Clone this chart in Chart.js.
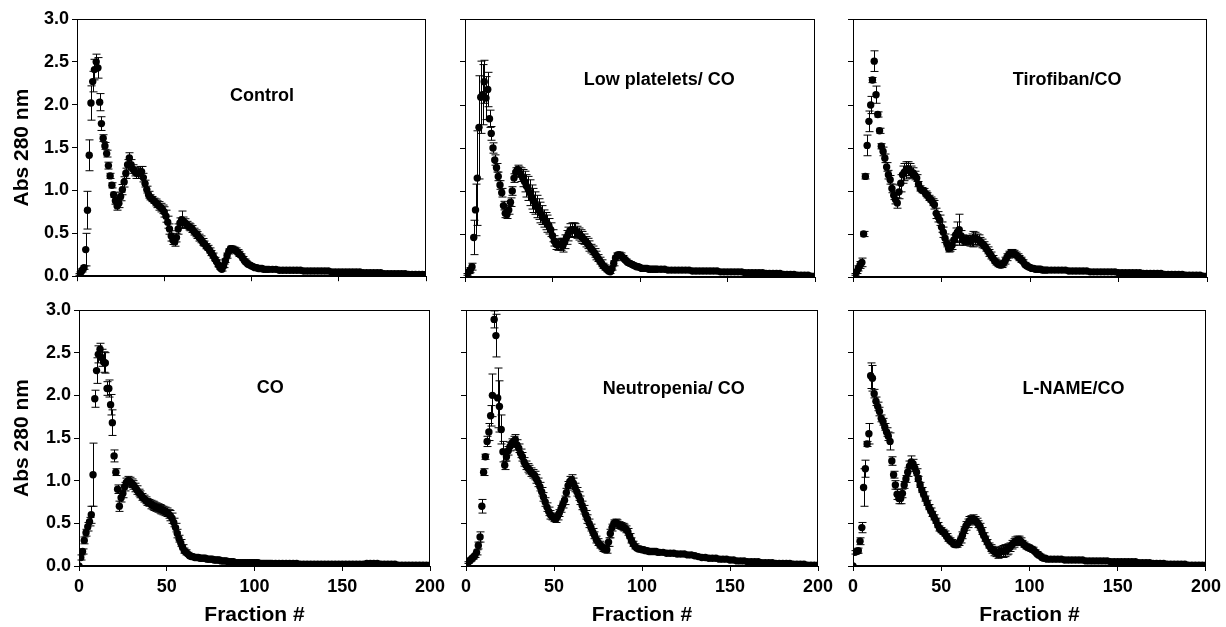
<!DOCTYPE html>
<html>
<head>
<meta charset="utf-8">
<script src="https://cdn.jsdelivr.net/npm/chart.js@4.4.1/dist/chart.umd.min.js"></script>
<style>
  html, body { margin: 0; padding: 0; background: #fff; }
  body { width: 1226px; height: 627px; position: relative; overflow: hidden; }
  .panel { position: absolute; }
  .panel canvas { display: block; }
</style>
</head>
<body>
<div class="panel" id="p0"><canvas id="c0"></canvas></div>
<div class="panel" id="p1"><canvas id="c1"></canvas></div>
<div class="panel" id="p2"><canvas id="c2"></canvas></div>
<div class="panel" id="p3"><canvas id="c3"></canvas></div>
<div class="panel" id="p4"><canvas id="c4"></canvas></div>
<div class="panel" id="p5"><canvas id="c5"></canvas></div>
<script>
// fraction numbers (every fraction up to 110, every second one after)
const fractions = [
  0, 1, 2, 3, 4, 5, 6, 7, 8, 9,
  10, 11, 12, 13, 14, 15, 16, 17, 18, 19,
  20, 21, 22, 23, 24, 25, 26, 27, 28, 29,
  30, 31, 32, 33, 34, 35, 36, 37, 38, 39,
  40, 41, 42, 43, 44, 45, 46, 47, 48, 49,
  50, 51, 52, 53, 54, 55, 56, 57, 58, 59,
  60, 61, 62, 63, 64, 65, 66, 67, 68, 69,
  70, 71, 72, 73, 74, 75, 76, 77, 78, 79,
  80, 81, 82, 83, 84, 85, 86, 87, 88, 89,
  90, 91, 92, 93, 94, 95, 96, 97, 98, 99,
  100, 101, 102, 103, 104, 105, 106, 107, 108, 109,
  110,
  112, 114, 116, 118, 120,
  122, 124, 126, 128, 130, 132, 134, 136, 138, 140,
  142, 144, 146, 148, 150, 152, 154, 156, 158, 160,
  162, 164, 166, 168, 170, 172, 174, 176, 178, 180,
  182, 184, 186, 188, 190, 192, 194, 196, 198, 200
];

const controlAbs = [
  0.00, 0.02, 0.04, 0.07, 0.10, 0.31, 0.77, 1.41, 2.02, 2.27,
  2.41, 2.50, 2.43, 2.03, 1.78, 1.61, 1.52, 1.43, 1.29, 1.17,
  1.06, 0.95, 0.88, 0.82, 0.85, 0.93, 1.01, 1.10, 1.20, 1.30,
  1.38, 1.30, 1.25, 1.22, 1.20, 1.20, 1.21, 1.22, 1.15, 1.08,
  1.01, 0.95, 0.92, 0.90, 0.88, 0.86, 0.84, 0.82, 0.80, 0.78,
  0.75, 0.70, 0.63, 0.55, 0.47, 0.42, 0.40, 0.45, 0.55, 0.62,
  0.66, 0.64, 0.62, 0.60, 0.58, 0.57, 0.55, 0.52, 0.50, 0.48,
  0.45, 0.43, 0.40, 0.38, 0.35, 0.33, 0.30, 0.27, 0.24, 0.20,
  0.17, 0.13, 0.10, 0.08, 0.12, 0.18, 0.24, 0.29, 0.32, 0.32,
  0.31, 0.30, 0.28, 0.26, 0.24, 0.21, 0.18, 0.16, 0.14, 0.13,
  0.12, 0.11, 0.10, 0.10, 0.09, 0.09, 0.09, 0.08, 0.08, 0.08,
  0.08,
  0.08, 0.08, 0.07, 0.07, 0.07,
  0.07, 0.07, 0.07, 0.07, 0.06, 0.06, 0.06, 0.06, 0.06, 0.06,
  0.06, 0.06, 0.05, 0.05, 0.05, 0.05, 0.05, 0.05, 0.05, 0.05,
  0.05, 0.04, 0.04, 0.04, 0.04, 0.04, 0.04, 0.03, 0.03, 0.03,
  0.03, 0.03, 0.03, 0.03, 0.02, 0.02, 0.02, 0.02, 0.02, 0.02
];
const controlErr = [
  0.00, 0.01, 0.01, 0.02, 0.02, 0.19, 0.22, 0.18, 0.20, 0.12,
  0.12, 0.09, 0.12, 0.10, 0.08, 0.04, 0.04, 0.04, 0.04, 0.03,
  0.03, 0.03, 0.04, 0.05, 0.05, 0.05, 0.06, 0.06, 0.06, 0.06,
  0.06, 0.06, 0.05, 0.05, 0.06, 0.06, 0.07, 0.06, 0.05, 0.04,
  0.04, 0.04, 0.03, 0.03, 0.03, 0.04, 0.04, 0.05, 0.05, 0.05,
  0.06, 0.07, 0.07, 0.06, 0.06, 0.05, 0.05, 0.05, 0.06, 0.06,
  0.10, 0.05, 0.05, 0.04, 0.04, 0.04, 0.04, 0.04, 0.04, 0.04,
  0.04, 0.04, 0.04, 0.03, 0.03, 0.03, 0.03, 0.03, 0.03, 0.02,
  0.02, 0.02, 0.02, 0.02, 0.02, 0.02, 0.03, 0.03, 0.03, 0.03,
  0.03, 0.03, 0.03, 0.03, 0.02, 0.02, 0.02, 0.02, 0.02, 0.01,
  0.01, 0.01, 0.01, 0.01, 0.01, 0.01, 0.01, 0.01, 0.01, 0.01,
  0.01
];

const lowPlateletsAbs = [
  0.01, 0.03, 0.06, 0.08, 0.12, 0.46, 0.78, 1.15, 1.74, 2.09,
  2.12, 2.27, 2.08, 2.18, 1.84, 1.67, 1.50, 1.36, 1.27, 1.17,
  1.07, 0.98, 0.83, 0.74, 0.73, 0.78, 0.87, 1.00, 1.15, 1.22,
  1.25, 1.22, 1.19, 1.15, 1.11, 1.06, 1.03, 0.98, 0.93, 0.89,
  0.86, 0.82, 0.79, 0.75, 0.72, 0.68, 0.65, 0.62, 0.59, 0.55,
  0.48, 0.42, 0.38, 0.37, 0.38, 0.38, 0.37, 0.41, 0.46, 0.50,
  0.54, 0.55, 0.55, 0.54, 0.52, 0.50, 0.48, 0.46, 0.44, 0.41,
  0.39, 0.36, 0.33, 0.31, 0.28, 0.25, 0.22, 0.19, 0.16, 0.13,
  0.11, 0.09, 0.07, 0.06, 0.10, 0.16, 0.22, 0.25, 0.26, 0.25,
  0.23, 0.21, 0.19, 0.17, 0.16, 0.15, 0.14, 0.13, 0.12, 0.12,
  0.11, 0.10, 0.10, 0.10, 0.10, 0.09, 0.09, 0.09, 0.09, 0.09,
  0.09,
  0.09, 0.09, 0.08, 0.08, 0.08,
  0.08, 0.08, 0.08, 0.08, 0.07, 0.07, 0.07, 0.07, 0.07, 0.07,
  0.07, 0.07, 0.06, 0.06, 0.06, 0.06, 0.06, 0.06, 0.06, 0.05,
  0.05, 0.05, 0.05, 0.05, 0.05, 0.04, 0.04, 0.04, 0.04, 0.04,
  0.03, 0.03, 0.03, 0.03, 0.02, 0.02, 0.02, 0.02, 0.01, 0.01
];
const lowPlateletsErr = [
  0.00, 0.01, 0.02, 0.03, 0.04, 0.20, 0.30, 0.55, 0.60, 0.42,
  0.35, 0.25, 0.25, 0.20, 0.10, 0.08, 0.06, 0.06, 0.05, 0.05,
  0.05, 0.05, 0.05, 0.05, 0.05, 0.05, 0.05, 0.05, 0.05, 0.05,
  0.05, 0.06, 0.08, 0.10, 0.12, 0.13, 0.14, 0.15, 0.14, 0.14,
  0.13, 0.13, 0.12, 0.12, 0.11, 0.10, 0.10, 0.10, 0.09, 0.08,
  0.07, 0.06, 0.06, 0.06, 0.06, 0.07, 0.08, 0.08, 0.08, 0.08,
  0.08, 0.08, 0.08, 0.08, 0.07, 0.07, 0.07, 0.07, 0.06, 0.06,
  0.06, 0.06, 0.05, 0.05, 0.05, 0.05, 0.04, 0.04, 0.04, 0.03,
  0.03, 0.03, 0.02, 0.02, 0.02, 0.03, 0.03, 0.03, 0.03, 0.03,
  0.02, 0.02, 0.02, 0.02, 0.02, 0.02, 0.02, 0.02, 0.01, 0.01,
  0.01, 0.01, 0.01, 0.01, 0.01, 0.01, 0.01, 0.01, 0.01, 0.01,
  0.01
];

const tirofibanAbs = [
  0.01, 0.03, 0.06, 0.10, 0.14, 0.17, 0.50, 1.17, 1.53, 1.81,
  2.00, 2.29, 2.51, 2.12, 1.89, 1.70, 1.52, 1.46, 1.38, 1.28,
  1.19, 1.13, 1.03, 0.95, 0.90, 0.86, 0.99, 1.09, 1.19, 1.22,
  1.24, 1.26, 1.24, 1.22, 1.21, 1.18, 1.15, 1.08, 1.03, 1.01,
  1.00, 0.97, 0.95, 0.92, 0.90, 0.87, 0.84, 0.74, 0.70, 0.66,
  0.58, 0.52, 0.45, 0.39, 0.33, 0.34, 0.37, 0.43, 0.49, 0.52,
  0.55, 0.48, 0.43, 0.42, 0.43, 0.43, 0.42, 0.43, 0.44, 0.45,
  0.44, 0.43, 0.41, 0.39, 0.37, 0.34, 0.31, 0.28, 0.25, 0.22,
  0.19, 0.17, 0.15, 0.14, 0.14, 0.16, 0.19, 0.23, 0.26, 0.28,
  0.28, 0.27, 0.26, 0.24, 0.22, 0.20, 0.18, 0.15, 0.13, 0.12,
  0.11, 0.10, 0.10, 0.09, 0.09, 0.09, 0.09, 0.08, 0.08, 0.08,
  0.08,
  0.08, 0.08, 0.08, 0.08, 0.08,
  0.07, 0.07, 0.07, 0.07, 0.07, 0.07, 0.06, 0.06, 0.06, 0.06,
  0.06, 0.06, 0.06, 0.06, 0.05, 0.05, 0.05, 0.05, 0.05, 0.05,
  0.05, 0.04, 0.04, 0.04, 0.04, 0.04, 0.04, 0.03, 0.03, 0.03,
  0.03, 0.03, 0.03, 0.02, 0.02, 0.02, 0.02, 0.02, 0.01, 0.01
];
const tirofibanErr = [
  0.00, 0.01, 0.02, 0.03, 0.04, 0.05, 0.03, 0.03, 0.12, 0.12,
  0.10, 0.03, 0.12, 0.10, 0.03, 0.03, 0.03, 0.05, 0.05, 0.05,
  0.05, 0.05, 0.05, 0.05, 0.05, 0.06, 0.08, 0.10, 0.10, 0.10,
  0.10, 0.08, 0.08, 0.07, 0.06, 0.05, 0.04, 0.03, 0.03, 0.03,
  0.03, 0.03, 0.03, 0.03, 0.03, 0.04, 0.05, 0.06, 0.06, 0.06,
  0.06, 0.06, 0.05, 0.04, 0.04, 0.04, 0.05, 0.06, 0.08, 0.12,
  0.18, 0.06, 0.06, 0.05, 0.05, 0.05, 0.06, 0.07, 0.09, 0.07,
  0.06, 0.06, 0.05, 0.05, 0.04, 0.04, 0.04, 0.04, 0.04, 0.03,
  0.03, 0.03, 0.03, 0.03, 0.03, 0.03, 0.04, 0.04, 0.04, 0.04,
  0.04, 0.04, 0.03, 0.03, 0.03, 0.03, 0.02, 0.02, 0.02, 0.02,
  0.01, 0.01, 0.01, 0.01, 0.01, 0.01, 0.01, 0.01, 0.01, 0.01,
  0.01
];

const coAbs = [
  0.00, 0.10, 0.17, 0.30, 0.39, 0.46, 0.52, 0.60, 1.07, 1.96,
  2.29, 2.48, 2.54, 2.44, 2.39, 2.38, 2.08, 2.08, 1.89, 1.68,
  1.29, 1.10, 0.90, 0.70, 0.80, 0.85, 0.93, 0.98, 1.00, 0.99,
  0.97, 0.95, 0.92, 0.89, 0.86, 0.84, 0.81, 0.79, 0.77, 0.75,
  0.74, 0.72, 0.71, 0.70, 0.69, 0.68, 0.67, 0.66, 0.65, 0.64,
  0.63, 0.61, 0.59, 0.56, 0.51, 0.45, 0.38, 0.32, 0.27, 0.22,
  0.18, 0.16, 0.14, 0.12, 0.11, 0.11, 0.10, 0.10, 0.10, 0.09,
  0.09, 0.09, 0.09, 0.08, 0.08, 0.08, 0.08, 0.07, 0.07, 0.07,
  0.07, 0.06, 0.06, 0.06, 0.06, 0.05, 0.05, 0.05, 0.05, 0.04,
  0.04, 0.04, 0.04, 0.04, 0.04, 0.04, 0.04, 0.04, 0.04, 0.04,
  0.04, 0.04, 0.04, 0.03, 0.03, 0.03, 0.03, 0.03, 0.03, 0.03,
  0.03,
  0.03, 0.03, 0.03, 0.03, 0.03,
  0.03, 0.03, 0.02, 0.02, 0.02, 0.02, 0.02, 0.02, 0.02, 0.02,
  0.02, 0.02, 0.02, 0.02, 0.02, 0.02, 0.02, 0.02, 0.02, 0.02,
  0.02, 0.03, 0.03, 0.03, 0.03, 0.02, 0.02, 0.02, 0.02, 0.02,
  0.01, 0.01, 0.01, 0.01, 0.01, 0.01, 0.01, 0.01, 0.01, 0.01
];
const coErr = [
  0.00, 0.03, 0.03, 0.04, 0.04, 0.05, 0.05, 0.10, 0.37, 0.10,
  0.15, 0.10, 0.07, 0.10, 0.12, 0.12, 0.08, 0.10, 0.12, 0.15,
  0.07, 0.04, 0.05, 0.06, 0.05, 0.05, 0.05, 0.05, 0.05, 0.05,
  0.05, 0.05, 0.05, 0.05, 0.04, 0.04, 0.04, 0.04, 0.04, 0.04,
  0.04, 0.05, 0.05, 0.05, 0.05, 0.05, 0.05, 0.05, 0.05, 0.05,
  0.05, 0.05, 0.06, 0.06, 0.05, 0.05, 0.05, 0.04, 0.04, 0.03,
  0.03, 0.03, 0.02, 0.02, 0.02, 0.01, 0.01, 0.01, 0.01, 0.01,
  0.01, 0.01, 0.01, 0.01, 0.01, 0.01, 0.01, 0.01, 0.01, 0.01,
  0.01, 0.01, 0.01, 0.01, 0.01, 0.01, 0.01, 0.01, 0.01, 0.01,
  0.01, 0.01, 0.01, 0.01, 0.01, 0.01, 0.01, 0.01, 0.01, 0.01,
  0.01, 0.01, 0.01, 0.01, 0.01, 0.01, 0.01, 0.01, 0.01, 0.01,
  0.01
];

const neutropeniaAbs = [
  0.02, 0.04, 0.06, 0.08, 0.10, 0.12, 0.16, 0.24, 0.34, 0.70,
  1.10, 1.28, 1.46, 1.57, 1.76, 2.00, 2.89, 2.70, 1.97, 1.87,
  1.60, 1.34, 1.18, 1.28, 1.35, 1.40, 1.44, 1.46, 1.48, 1.42,
  1.38, 1.32, 1.28, 1.22, 1.18, 1.15, 1.13, 1.10, 1.08, 1.06,
  1.02, 0.98, 0.93, 0.87, 0.81, 0.75, 0.69, 0.64, 0.60, 0.58,
  0.56, 0.55, 0.58, 0.62, 0.67, 0.72, 0.77, 0.86, 0.94, 0.99,
  1.01, 0.97, 0.92, 0.87, 0.82, 0.77, 0.71, 0.66, 0.60, 0.55,
  0.50, 0.45, 0.40, 0.36, 0.31, 0.28, 0.25, 0.23, 0.21, 0.20,
  0.19, 0.28, 0.38, 0.45, 0.50, 0.51, 0.50, 0.48, 0.47, 0.46,
  0.45, 0.43, 0.40, 0.35, 0.30, 0.26, 0.23, 0.21, 0.20, 0.20,
  0.19, 0.19, 0.18, 0.18, 0.17, 0.17, 0.17, 0.17, 0.17, 0.16,
  0.16,
  0.16, 0.15, 0.15, 0.15, 0.14,
  0.14, 0.14, 0.13, 0.13, 0.12, 0.11, 0.10, 0.10, 0.09, 0.09,
  0.09, 0.08, 0.08, 0.08, 0.07, 0.07, 0.06, 0.06, 0.06, 0.05,
  0.05, 0.05, 0.05, 0.04, 0.04, 0.04, 0.04, 0.03, 0.03, 0.03,
  0.03, 0.03, 0.02, 0.02, 0.02, 0.02, 0.01, 0.01, 0.01, 0.01
];
const neutropeniaErr = [
  0.00, 0.01, 0.01, 0.02, 0.02, 0.02, 0.03, 0.04, 0.06, 0.08,
  0.04, 0.03, 0.06, 0.10, 0.12, 0.25, 0.10, 0.25, 0.35, 0.30,
  0.17, 0.12, 0.05, 0.05, 0.05, 0.05, 0.05, 0.06, 0.06, 0.06,
  0.05, 0.05, 0.05, 0.05, 0.05, 0.05, 0.05, 0.05, 0.05, 0.05,
  0.05, 0.05, 0.05, 0.05, 0.05, 0.05, 0.05, 0.05, 0.05, 0.04,
  0.04, 0.04, 0.04, 0.04, 0.04, 0.04, 0.05, 0.05, 0.05, 0.06,
  0.06, 0.06, 0.05, 0.05, 0.05, 0.05, 0.05, 0.05, 0.05, 0.05,
  0.05, 0.04, 0.04, 0.04, 0.04, 0.04, 0.04, 0.04, 0.04, 0.04,
  0.04, 0.05, 0.05, 0.04, 0.04, 0.04, 0.04, 0.04, 0.04, 0.04,
  0.04, 0.04, 0.04, 0.03, 0.03, 0.03, 0.03, 0.02, 0.02, 0.02,
  0.02, 0.01, 0.01, 0.01, 0.01, 0.01, 0.01, 0.01, 0.01, 0.01,
  0.01
];

const lnameAbs = [
  0.00, 0.16, 0.17, 0.18, 0.29, 0.45, 0.92, 1.14, 1.43, 1.55,
  2.23, 2.20, 2.02, 1.93, 1.87, 1.81, 1.73, 1.69, 1.63, 1.57,
  1.52, 1.46, 1.23, 1.07, 0.95, 0.84, 0.79, 0.79, 0.85, 0.95,
  1.02, 1.10, 1.17, 1.22, 1.20, 1.15, 1.10, 1.02, 0.95, 0.89,
  0.84, 0.79, 0.74, 0.69, 0.65, 0.61, 0.57, 0.53, 0.48, 0.44,
  0.42, 0.40, 0.38, 0.35, 0.32, 0.30, 0.28, 0.26, 0.25, 0.25,
  0.27, 0.31, 0.36, 0.42, 0.47, 0.50, 0.53, 0.54, 0.55, 0.54,
  0.52, 0.49, 0.46, 0.41, 0.36, 0.32, 0.28, 0.24, 0.21, 0.19,
  0.17, 0.16, 0.15, 0.16, 0.17, 0.17, 0.18, 0.19, 0.20, 0.22,
  0.25, 0.27, 0.29, 0.30, 0.31, 0.29, 0.27, 0.25, 0.23, 0.22,
  0.21, 0.20, 0.19, 0.17, 0.15, 0.13, 0.12, 0.10, 0.09, 0.09,
  0.08,
  0.08, 0.08, 0.08, 0.08, 0.07,
  0.07, 0.07, 0.07, 0.07, 0.07, 0.06, 0.06, 0.06, 0.06, 0.06,
  0.06, 0.06, 0.05, 0.05, 0.05, 0.05, 0.05, 0.05, 0.05, 0.05,
  0.04, 0.04, 0.04, 0.04, 0.03, 0.03, 0.03, 0.03, 0.02, 0.02,
  0.02, 0.02, 0.02, 0.02, 0.01, 0.01, 0.01, 0.01, 0.01, 0.01
];
const lnameErr = [
  0.00, 0.02, 0.02, 0.03, 0.04, 0.06, 0.22, 0.10, 0.03, 0.12,
  0.15, 0.15, 0.05, 0.05, 0.05, 0.05, 0.04, 0.04, 0.04, 0.05,
  0.05, 0.10, 0.05, 0.04, 0.05, 0.06, 0.06, 0.06, 0.05, 0.04,
  0.04, 0.05, 0.06, 0.07, 0.05, 0.04, 0.04, 0.03, 0.03, 0.03,
  0.03, 0.03, 0.03, 0.03, 0.03, 0.03, 0.03, 0.03, 0.03, 0.03,
  0.03, 0.03, 0.03, 0.03, 0.03, 0.03, 0.03, 0.03, 0.03, 0.03,
  0.03, 0.04, 0.04, 0.04, 0.05, 0.05, 0.05, 0.05, 0.05, 0.04,
  0.04, 0.04, 0.04, 0.04, 0.03, 0.03, 0.03, 0.03, 0.04, 0.04,
  0.05, 0.05, 0.06, 0.06, 0.06, 0.07, 0.07, 0.06, 0.06, 0.05,
  0.05, 0.05, 0.05, 0.05, 0.04, 0.04, 0.03, 0.03, 0.03, 0.03,
  0.03, 0.03, 0.03, 0.02, 0.02, 0.02, 0.02, 0.01, 0.01, 0.01,
  0.01
];

const panelTitles = ['Control', 'Low platelets/ CO', 'Tirofiban/CO', 'CO', 'Neutropenia/ CO', 'L-NAME/CO'];
// where each panel title sits, in data units (fraction, absorbance)
const titleFraction = [106, 111, 121, 109, 118, 125];
const titleAbs = [2.10, 2.29, 2.29, 2.08, 2.07, 2.07];

const seriesAbs = [controlAbs, lowPlateletsAbs, tirofibanAbs, coAbs, neutropeniaAbs, lnameAbs];
const seriesErr = [controlErr, lowPlateletsErr, tirofibanErr, coErr, neutropeniaErr, lnameErr];

// page layout: canvas box and plot rectangle for each panel (px)
const layout = [
  { box: [0, 0, 460, 290],     plot: [77, 426, 19, 277] },
  { box: [440, 0, 400, 290],   plot: [465, 815, 19, 277] },
  { box: [826, 0, 400, 290],   plot: [853, 1207, 19, 277] },
  { box: [0, 290, 460, 338],   plot: [79, 430, 310, 566] },
  { box: [440, 290, 400, 338], plot: [466, 818, 310, 566] },
  { box: [826, 290, 400, 338], plot: [853, 1206, 310, 566] }
];

const FONT = "'Liberation Sans', Arial, Helvetica, sans-serif";
Chart.defaults.font.family = FONT;
Chart.defaults.color = '#000';

const errorBars = {
  id: 'errorBars',
  afterDatasetsDraw(chart, args, opts) {
    const { ctx, scales: { x, y } } = chart;
    const vals = opts.values, errs = opts.errors;
    ctx.save();
    ctx.strokeStyle = '#000';
    ctx.lineWidth = 1;
    ctx.beginPath();
    for (let i = 0; i < fractions.length; i++) {
      const e = errs[i];
      if (!e) continue;
      const px = Math.round(x.getPixelForValue(fractions[i])) + 0.5;
      const top = y.getPixelForValue(Math.min(vals[i] + e, 3));
      const bot = y.getPixelForValue(Math.max(vals[i] - e, 0));
      ctx.moveTo(px, top); ctx.lineTo(px, bot);
      ctx.moveTo(px - 4, top); ctx.lineTo(px + 4, top);
      ctx.moveTo(px - 4, bot); ctx.lineTo(px + 4, bot);
    }
    ctx.stroke();
    ctx.restore();
  }
};

const frameAndTitle = {
  id: 'frameAndTitle',
  afterDraw(chart, args, opts) {
    const { ctx, chartArea: a, scales: { x, y } } = chart;
    ctx.save();
    ctx.strokeStyle = '#000';
    ctx.lineWidth = 1;
    const l = Math.round(a.left) + 0.5, r = Math.round(a.right) - 0.5;
    const t = Math.round(a.top) + 0.5, b = Math.round(a.bottom) - 0.5;
    ctx.strokeRect(l, t, r - l, b - t);
    ctx.fillStyle = '#000';
    ctx.font = 'bold 18px ' + FONT;
    ctx.textAlign = 'center';
    ctx.textBaseline = 'middle';
    ctx.fillText(opts.text, x.getPixelForValue(opts.at[0]), y.getPixelForValue(opts.at[1]));
    ctx.restore();
  }
};

layout.forEach((p, idx) => {
  const [bl, bt, bw, bh] = p.box;
  const [pl, pr, pt, pb] = p.plot;
  const firstCol = idx % 3 === 0;
  const bottomRow = idx >= 3;
  const div = document.getElementById('p' + idx);
  div.style.left = bl + 'px';
  div.style.top = bt + 'px';
  const canvas = document.getElementById('c' + idx);
  canvas.width = bw;
  canvas.height = bh;

  const yAxisW = pl - bl;
  const xAxisH = bt + bh - pb;
  const tickFont = { family: FONT, size: 18, weight: 'bold' };
  const titleFont = { family: FONT, size: 21, weight: 'bold' };

  new Chart(canvas, {
    type: 'scatter',
    data: {
      datasets: [{
        data: fractions.map((f, i) => ({ x: f, y: seriesAbs[idx][i] })),
        pointRadius: 3.7,
        pointBackgroundColor: '#000',
        pointBorderWidth: 0,
        showLine: false
      }]
    },
    plugins: [errorBars, frameAndTitle],
    options: {
      responsive: false,
      animation: false,
      events: [],
      devicePixelRatio: 1,
      layout: { padding: { left: 0, top: pt - bt, right: bl + bw - pr, bottom: 0 } },
      plugins: {
        legend: { display: false },
        tooltip: { enabled: false },
        errorBars: { values: seriesAbs[idx], errors: seriesErr[idx] },
        frameAndTitle: { text: panelTitles[idx], at: [titleFraction[idx], titleAbs[idx]] }
      },
      scales: {
        x: {
          type: 'linear',
          min: 0,
          max: 200,
          ticks: { stepSize: 50, display: bottomRow, font: tickFont, color: '#000', padding: 5, maxRotation: 0 },
          grid: { drawOnChartArea: false, drawTicks: true, tickLength: 5, color: '#000', lineWidth: 1 },
          border: { display: true, color: '#000', width: 1 },
          title: { display: bottomRow, text: 'Fraction #', font: titleFont, color: '#000', padding: { top: 0, bottom: 0 } },
          afterFit: (s) => { s.height = xAxisH; }
        },
        y: {
          min: 0,
          max: 3,
          ticks: {
            stepSize: 0.5,
            display: firstCol,
            font: tickFont,
            color: '#000',
            padding: 3,
            callback: (v) => v.toFixed(1)
          },
          grid: { drawOnChartArea: false, drawTicks: true, tickLength: 5, color: '#000', lineWidth: 1 },
          border: { display: true, color: '#000', width: 1 },
          title: { display: firstCol, text: 'Abs 280 nm', font: titleFont, color: '#000', padding: { top: 10, bottom: 0 } },
          afterFit: (s) => { s.width = yAxisW; }
        }
      }
    }
  });
});
</script>
</body>
</html>
